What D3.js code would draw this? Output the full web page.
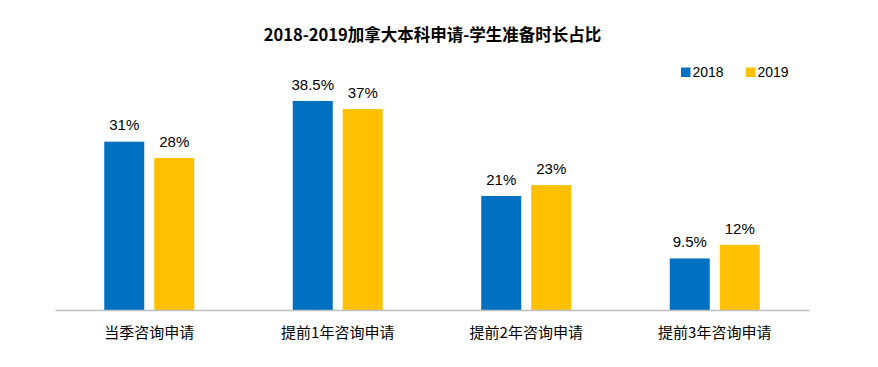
<!DOCTYPE html>
<html>
<head>
<meta charset="utf-8">
<script src="https://cdn.jsdelivr.net/npm/d3@7"></script>
<style>
  html, body { margin: 0; padding: 0; background: #fff; }
  svg { display: block; }
</style>
</head>
<body>
<div id="chart"></div>
<script>
const title = "2018-2019加拿大本科申请-学生准备时长占比";
const categories = ["当季咨询申请", "提前1年咨询申请", "提前2年咨询申请", "提前3年咨询申请"];
const seriesNames = ["2018", "2019"];
const values2018 = [31, 38.5, 21, 9.5];
const values2019 = [28, 37, 23, 12];
const valueLabels2018 = ["31%", "38.5%", "21%", "9.5%"];
const valueLabels2019 = ["28%", "37%", "23%", "12%"];
const colors = ["#0070C0", "#FFC000"];

const W = 878, H = 367;
const svg = d3.select("#chart").append("svg").attr("width", W).attr("height", H);

const series = [
  { name: seriesNames[0], values: values2018, labels: valueLabels2018, color: colors[0] },
  { name: seriesNames[1], values: values2019, labels: valueLabels2019, color: colors[1] }
];

const x0 = d3.scaleBand().domain(categories).range([55, 809]).paddingInner(0).paddingOuter(0);
const groupW = 90;
const x1 = d3.scaleBand().domain(seriesNames)
  .range([(x0.bandwidth() - groupW) / 2, (x0.bandwidth() + groupW) / 2])
  .paddingInner(0.2).paddingOuter(0);
const y = d3.scaleLinear().domain([0, 40]).range([310, 92.8]);

// title
svg.append("text")
  .attr("x", 432.5).attr("y", 41)
  .attr("text-anchor", "middle")
  .attr("font-family", "'Noto Sans CJK SC', sans-serif")
  .attr("font-weight", "bold")
  .attr("font-size", 16.5)
  .attr("fill", "#000")
  .text(title);

// bars
const groups = svg.selectAll("g.cat").data(categories).enter().append("g")
  .attr("class", "cat")
  .attr("transform", d => `translate(${x0(d)},0)`);

groups.each(function(cat, i) {
  const g = d3.select(this);
  series.forEach(s => {
    g.append("rect")
      .attr("x", x1(s.name))
      .attr("y", y(s.values[i]))
      .attr("width", x1.bandwidth())
      .attr("height", y(0) - y(s.values[i]))
      .attr("fill", s.color);
    g.append("text")
      .attr("x", x1(s.name) + x1.bandwidth() / 2)
      .attr("y", y(s.values[i]) - 11.3)
      .attr("text-anchor", "middle")
      .attr("font-family", "'Liberation Sans', Arial, sans-serif")
      .attr("font-size", 15)
      .attr("fill", "#000")
      .text(s.labels[i]);
  });
});

// x axis
const xAxis = d3.axisBottom(x0).tickSize(0).tickPadding(0);
const axisG = svg.append("g").attr("transform", `translate(0,${y(0)})`).call(xAxis);
axisG.select(".domain").attr("stroke", "#BFBFBF").attr("stroke-width", 1.3);
axisG.selectAll(".tick text")
  .attr("y", 27.5)
  .attr("dy", 0)
  .attr("font-family", "'Noto Sans CJK SC', 'Liberation Sans', sans-serif")
  .attr("font-size", 15)
  .attr("fill", "#000");

// legend
const legendItems = [
  { name: seriesNames[0], color: colors[0], x: 681 },
  { name: seriesNames[1], color: colors[1], x: 746 }
];
const lg = svg.append("g");
legendItems.forEach(it => {
  lg.append("rect").attr("x", it.x).attr("y", 67.5).attr("width", 9.5).attr("height", 9.5).attr("fill", it.color);
  lg.append("text").attr("x", it.x + 11.5).attr("y", 77)
    .attr("font-family", "'Liberation Sans', Arial, sans-serif")
    .attr("font-size", 14)
    .attr("fill", "#000")
    .text(it.name);
});
</script>
</body>
</html>
